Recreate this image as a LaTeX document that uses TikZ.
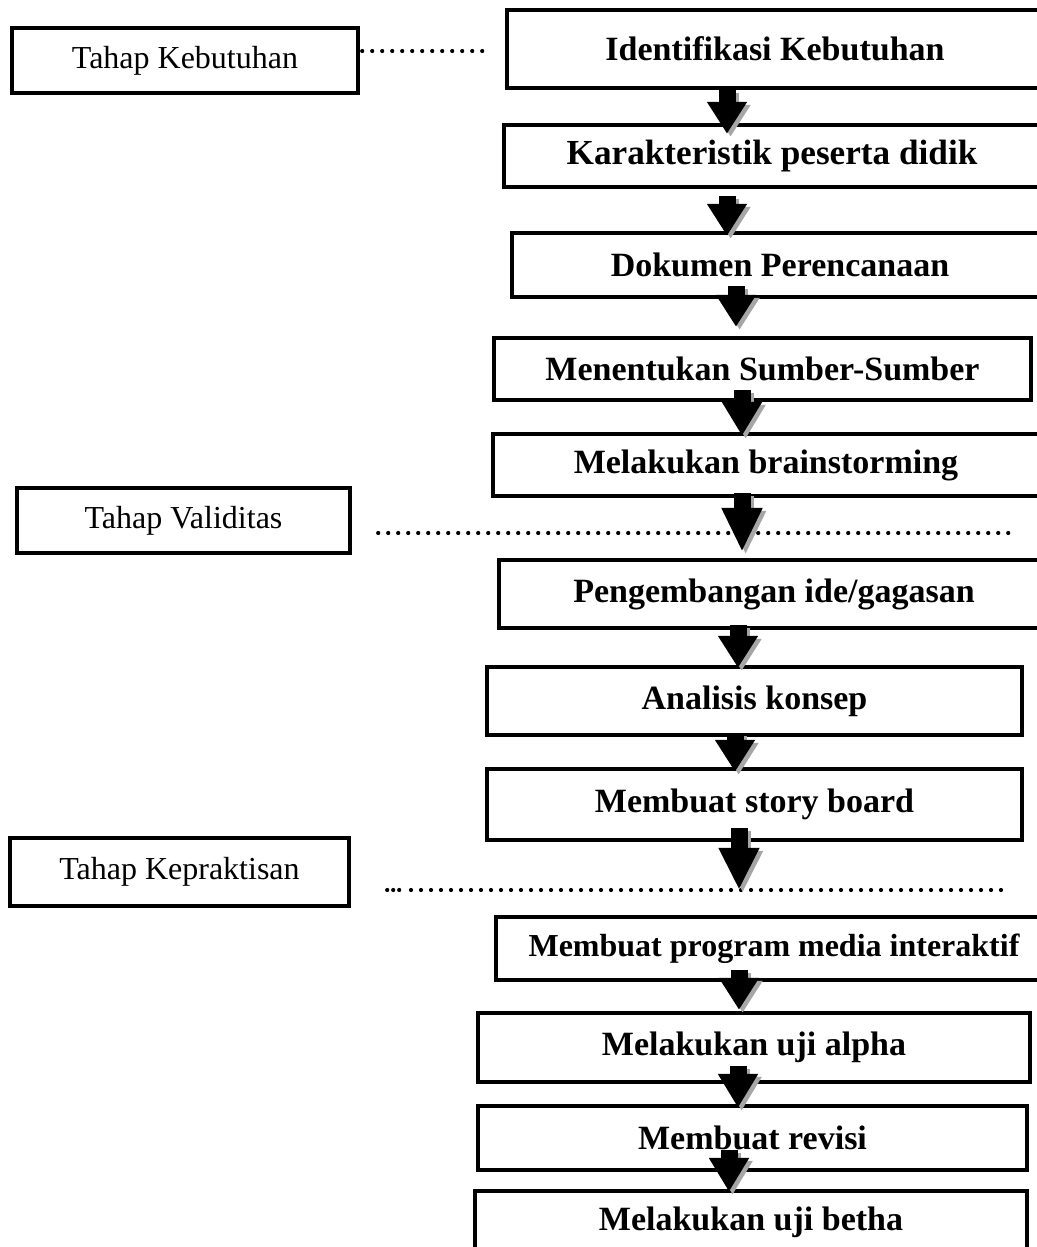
\documentclass[tikz,border=0pt]{standalone}
\usepackage{fontspec}
\setmainfont{Liberation Serif}
\usetikzlibrary{arrows.meta,calc}

\begin{document}
\begin{tikzpicture}[x=0.5pt, y=-0.5pt,
    flowbox/.style={draw, line width=2.2pt, inner sep=0pt, font=\fontsize{17}{20}\selectfont\bfseries},
    stagebox/.style={draw, line width=2.2pt, inner sep=0pt, font=\fontsize{16}{19}\selectfont},
    dotline/.style={line width=2.1pt, line cap=round, dash pattern=on 0pt off 5pt},
    blockarrow/.style={line width=8.5pt, -{Triangle[width=19pt,length=#1]}},
    blockarrow/.default=16pt,
    arrowshadow/.style={blockarrow=#1, black!35, transform canvas={shift={(1.8pt,-1.5pt)}}},
    arrowshadow/.default=16pt]
    \useasboundingbox (0,0) rectangle (1037,1247);
    \clip (0,0) rectangle (1037,1247);

    % Stages
    \node[stagebox, minimum width=173pt, minimum height=32.5pt] (keb) at (185,60.5) {Tahap Kebutuhan};
    \node[stagebox, minimum width=166.5pt, minimum height=32.5pt] (val) at (183.5,520.5) {Tahap Validitas};
    \node[stagebox, minimum width=169.5pt, minimum height=34pt] (kep) at (179.5,872) {Tahap Kepraktisan};

    % Steps
    \node[flowbox, minimum width=268pt, minimum height=39pt] (b1) at (775,49) {Identifikasi Kebutuhan};
    \node[flowbox, minimum width=268pt, minimum height=31pt, font=\fontsize{17.6}{20}\selectfont\bfseries] (b2) at (772,156) {Karakteristik peserta didik};
    \node[flowbox, minimum width=268pt, minimum height=32pt] (b3) at (780,265) {Dokumen Perencanaan};
    \node[flowbox, minimum width=268.5pt, minimum height=31pt] (b4) at (762.5,369) {Menentukan Sumber-Sumber};
    \node[flowbox, minimum width=273pt, minimum height=31pt] (b5) at (766,465) {Melakukan brainstorming};
    \node[flowbox, minimum width=275pt, minimum height=34pt] (b6) at (774,594) {Pengembangan ide/gagasan};
    \node[flowbox, minimum width=267.5pt, minimum height=34pt] (b7) at (754.5,701) {Analisis konsep};
    \node[flowbox, minimum width=267.5pt, minimum height=35.5pt] (b8) at (754.5,804.5) {Membuat story board};
    \node[flowbox, minimum width=278pt, minimum height=31.5pt, font=\fontsize{16}{19}\selectfont\bfseries] (b9) at (774,948.5) {Membuat program media interaktif};
    \node[flowbox, minimum width=276pt, minimum height=34.5pt] (b10) at (754,1047.5) {Melakukan uji alpha};
    \node[flowbox, minimum width=274.5pt, minimum height=32pt] (b11) at (752.5,1138) {Membuat revisi};
    \node[flowbox, minimum width=276pt, minimum height=31pt] (b12) at (751,1222) {Melakukan uji betha};

    % Dotted guides
    \coordinate (k1) at (483,51);
    \coordinate (v1) at (1010,533);
    \coordinate (p0) at (411,890);
    \coordinate (p1) at (1002,890);
    \draw[dotline] ($(keb.east |- k1)+(2,0)$) -- (k1);
    \draw[dotline] ($(val.east |- v1)+(26,0)$) -- (v1);
    \draw[dotline, dash pattern=on 0pt off 3pt] ($(kep.east |- p1)+(36,0)$) -- ($(p0)+(-6,0)$);
    \draw[dotline] (p0) -- (p1);

    % Arrows
    \foreach \a/\b/\x/\s/\t/\h in {b1/b2/727/0/11/16pt, b2/b3/727/7/5/16pt, b3/b4/736/-13/-9/16pt,
        b4/b5/742/-12/4/17pt, b5/b6/742/-5/-6/22pt, b6/b7/738/-5/3/16pt, b7/b8/735/-4/5/16pt,
        b8/b9/739/-14/-25/21pt, b9/b10/739/-12/-1/16pt, b10/b11/738/-18/4/17pt, b11/b12/729/-22/3/17pt}{
        \draw[arrowshadow=\h] ($(\x,0 |- \a.south)+(0,\s)$) -- ($(\x,0 |- \b.north)+(0,\t)$);
        \draw[blockarrow=\h] ($(\x,0 |- \a.south)+(0,\s)$) -- ($(\x,0 |- \b.north)+(0,\t)$);
    }
\end{tikzpicture}
\end{document}
